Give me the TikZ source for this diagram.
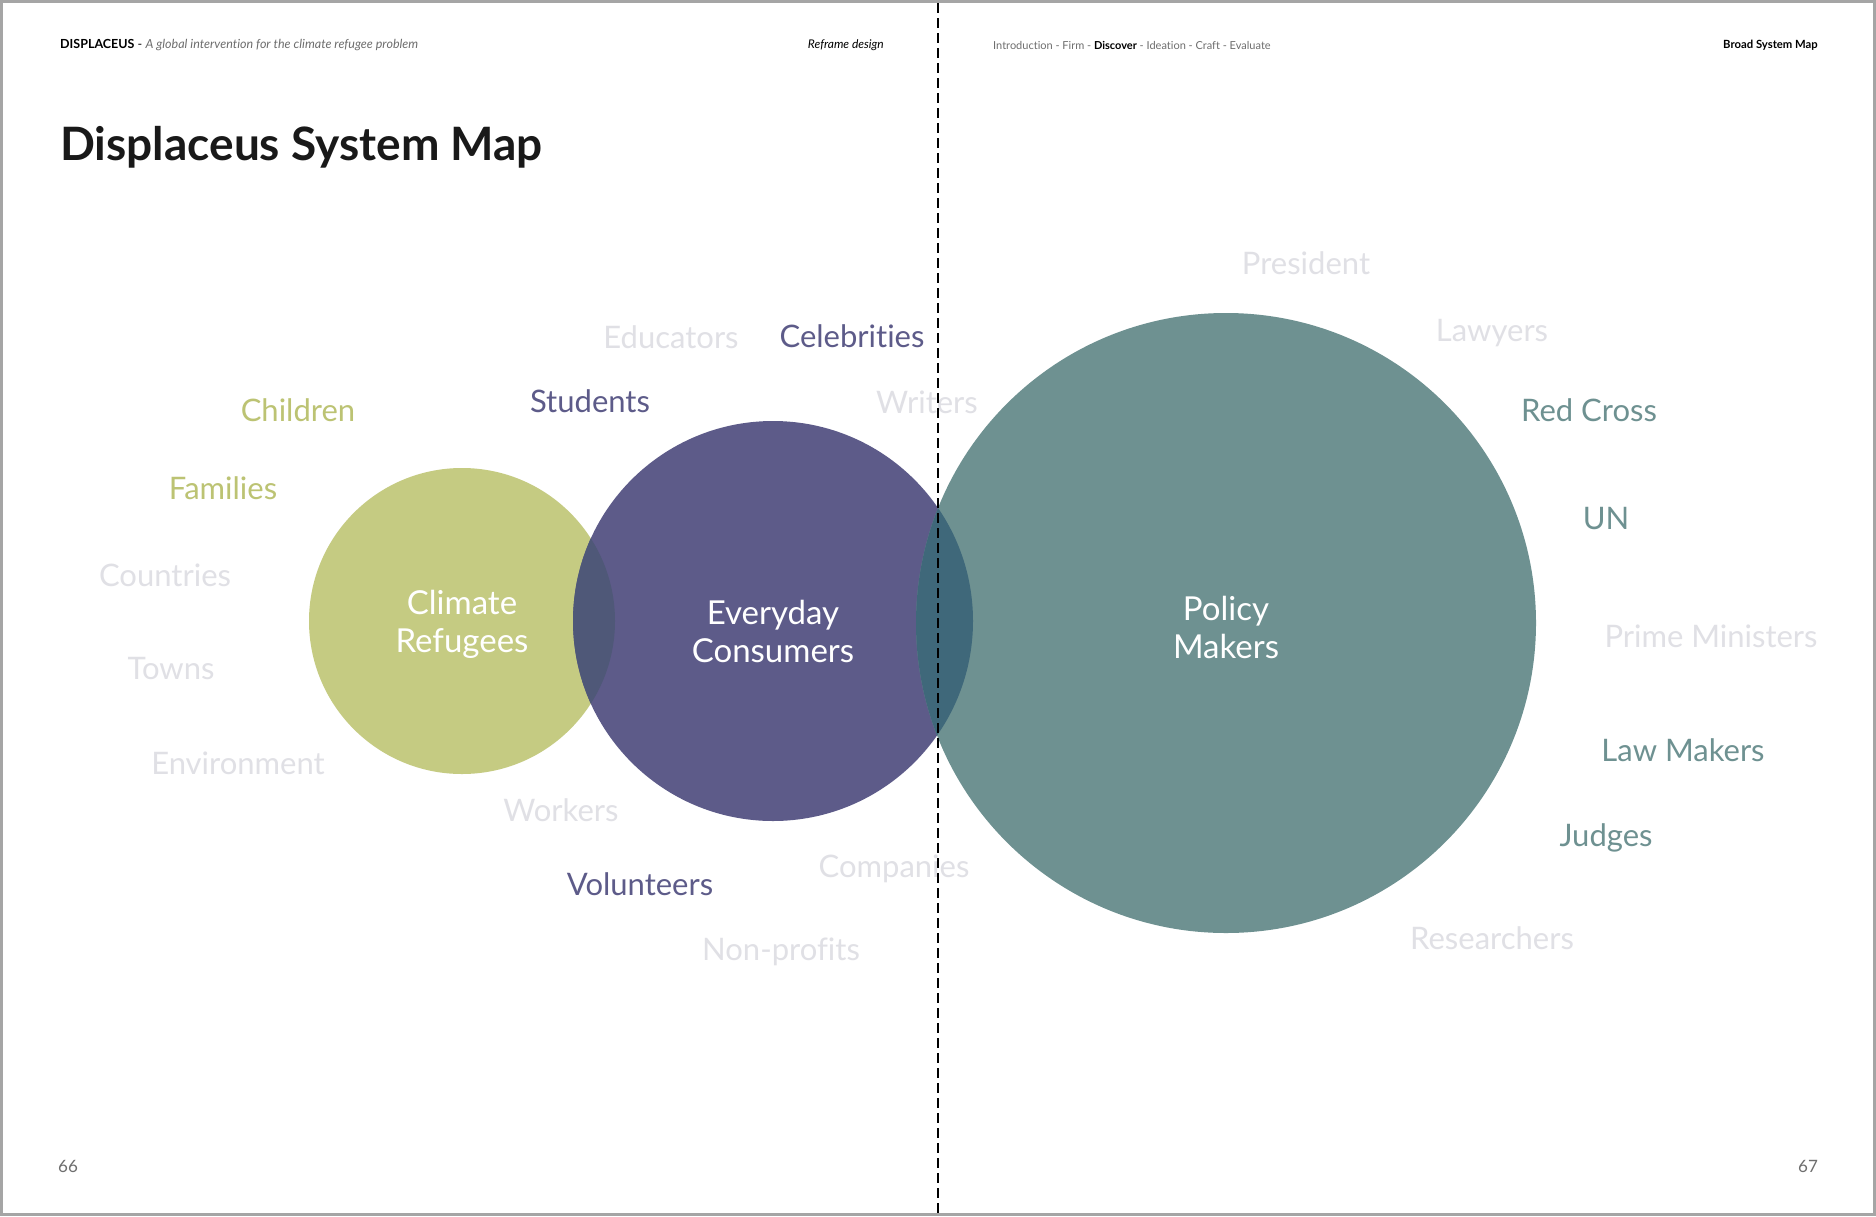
\documentclass[tikz,border=0pt]{standalone}
\usepackage{fontspec}
\setmainfont{Lato}[Ligatures={NoCommon}]
\usepackage{tikz}
\usetikzlibrary{positioning,calc}
\definecolor{RefGreen}{RGB}{197,203,130}
\definecolor{RefGreenTxt}{RGB}{188,195,115}
\definecolor{ConPurple}{RGB}{93,91,137}
\definecolor{PolTeal}{RGB}{110,145,145}
\definecolor{GreenPurple}{RGB}{79,88,120}
\definecolor{PurpleTeal}{RGB}{63,104,122}
\definecolor{FadeGray}{RGB}{224,224,229}
\definecolor{HeadGray}{RGB}{110,110,110}
\definecolor{FrameGray}{RGB}{165,165,165}

\begin{document}
\begin{tikzpicture}[x=1pt,y=-1pt,every node/.style={inner sep=0pt}]
\tikzset{bubble/.style={circle},
  bubbletext/.style={text=white,align=center,font=\fontsize{33}{38}\selectfont},
  tag/.style={font=\fontsize{31}{36}\selectfont,text height=0.72em,text depth=0pt,yshift=-8pt},
  greentag/.style={tag,text=RefGreenTxt},
  purpletag/.style={tag,text=ConPurple},
  tealtag/.style={tag,text=PolTeal},
  fadetag/.style={tag,text=FadeGray},
  header/.style={font=\fontsize{12}{14}\selectfont,anchor=west}}
\useasboundingbox (0,0) rectangle (1876,1216);
\fill[white] (0,0) rectangle (1876,1216);
\draw[FrameGray,line width=3pt] (1.5,1.5) rectangle (1874.5,1214.5);
% header and title
\node[header,font=\fontsize{12.5}{14}\selectfont] (brand) at (60,45) {\textbf{DISPLACEUS} - \textit{\color{HeadGray}A global intervention for the climate refugee problem}};
\node[header,anchor=east] (section) at (884,45) {\textit{Reframe design}};
\node[header,font=\fontsize{11}{13}\selectfont,text=HeadGray] (chapters) at (993,45) {Introduction - Firm - \textbf{\color{black}Discover} - Ideation - Craft - Evaluate};
\node[header,font=\fontsize{11.3}{13}\selectfont,anchor=east] (pagetitle) at (1818,45) {\textbf{Broad System Map}};
\node[anchor=west,font=\fontsize{46}{52}\selectfont\bfseries,text=black!90] (title) at (60,147) {Displaceus System Map};
% circles
\node[bubble,fill=RefGreen,minimum size=306pt] (refugees) at (462,621) {};
\node[bubble,fill=ConPurple,minimum size=400pt] (consumers) at (773,621) {};
\node[bubble,fill=PolTeal,minimum size=620pt] (policy) at (1226,623) {};
\begin{scope}
\clip (refugees.center) circle (153);
\fill[GreenPurple] (consumers.center) circle (200);
\end{scope}
\begin{scope}
\clip (consumers.center) circle (200);
\fill[PurpleTeal] (policy.center) circle (310);
\end{scope}
\node[bubbletext] (refugeestext) at ($(refugees)+(0,3)$) {Climate\\Refugees};
\node[bubbletext] (consumerstext) at ($(consumers)+(0,10)$) {Everyday\\Consumers};
\node[bubbletext] (policytext) at ($(policy)+(0,4)$) {Policy\\Makers};
% labels
\node[greentag] (children) at (298,410) {Children};
\node[greentag] (families) at (223,488) {Families};
\node[fadetag] (countries) at (165,575) {Countries};
\node[fadetag] (towns) at (171,668) {Towns};
\node[fadetag] (environment) at (238,763) {Environment};
\node[purpletag] (students) at (590,401) {Students};
\node[fadetag] (educators) at (671,337) {Educators};
\node[purpletag] (celebrities) at (852,336) {Celebrities};
\node[fadetag] (writers) at (927,402) {Writers};
\node[fadetag] (workers) at (561,810) {Workers};
\node[purpletag] (volunteers) at (640,884) {Volunteers};
\node[fadetag] (companies) at (894,866) {Companies};
\node[fadetag] (nonprofits) at (781,949) {Non-profits};
\node[fadetag] (president) at (1306,263) {President};
\node[fadetag] (lawyers) at (1492,330) {Lawyers};
\node[tealtag] (redcross) at (1589,410) {Red Cross};
\node[tealtag] (un) at (1606,518) {UN};
\node[fadetag] (ministers) at (1711,636) {Prime Ministers};
\node[tealtag] (lawmakers) at (1683,750) {Law Makers};
\node[tealtag] (judges) at (1606,835) {Judges};
\node[fadetag] (researchers) at (1492,938) {Researchers};
% page fold and numbers
\coordinate (foldtop) at (938,3);
\coordinate (foldbottom) at (938,1213);
\draw[black,line width=1.3pt,dash pattern=on 10pt off 5pt] (foldtop) -- (foldbottom);
\node[font=\fontsize{17}{20}\selectfont,text=HeadGray] (leftpage) at (68,1166) {66};
\node[font=\fontsize{17}{20}\selectfont,text=HeadGray] (rightpage) at (1808,1166) {67};
\end{tikzpicture}
\end{document}
